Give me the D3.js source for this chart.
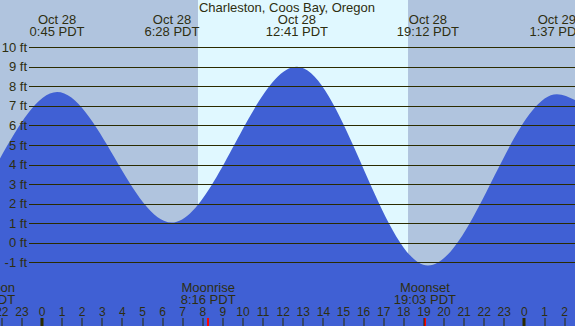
<!DOCTYPE html>
<html>
<head>
<meta charset="utf-8">
<script src="https://cdn.jsdelivr.net/npm/d3@7"></script>
<style>
  body { margin: 0; background: #b0c4de; }
  svg { display: block; font-family: "Liberation Sans", Arial, sans-serif; }
  text { fill: #2e2e10; }
</style>
</head>
<body>
<div id="chart"></div>
<script>
var width = 575,
    height = 326;

// tide: chart edges and the highs / lows (hours from midnight Oct 28, feet)
var tideHours = [-2.09, 0.75, 6.467, 12.683, 19.2, 25.617, 26.52];
var tideFeet  = [4.31, 7.71, 1.03, 9.0, -1.16, 7.6, 7.3];

// high / low labels on top
var extremeHours = [0.75, 6.467, 12.683, 19.2, 25.617];
var extremeDates = ["Oct 28", "Oct 28", "Oct 28", "Oct 28", "Oct 29"];
var extremeTimes = ["0:45 PDT", "6:28 PDT", "12:41 PDT", "19:12 PDT", "1:37 PDT"];

// daylight
var sunrise = 7.76,
    sunset = 18.21;

// moon events at the bottom (the first one is cut off at the left edge)
var moonHours = [-1.34, 8.267, 19.05];
var moonNames = ["Moon", "Moonrise", "Moonset"];
var moonTimes = ["PDT", "8:16 PDT", "19:03 PDT"];

var feetTicks = [10, 9, 8, 7, 6, 5, 4, 3, 2, 1, 0, -1];
var hourTicks = d3.range(-2, 27);

var x = d3.scaleLinear().domain([0, 24]).range([42, 524.4]);
var y = d3.scaleLinear().domain([-1, 10]).range([262.3, 47.3]);

var svg = d3.select("#chart").append("svg")
    .attr("width", width)
    .attr("height", height);

// night background, then the day band
svg.append("rect")
    .attr("width", width)
    .attr("height", height)
    .attr("fill", "#b0c4de");

svg.append("rect")
    .attr("x", x(sunrise))
    .attr("width", x(sunset) - x(sunrise))
    .attr("height", height)
    .attr("fill", "#e0f8ff");

// tide
var tide = tideHours.map(function (h, i) { return [h, tideFeet[i]]; });

var area = d3.area()
    .x(function (d) { return x(d[0]); })
    .y0(height)
    .y1(function (d) { return y(d[1]); })
    .curve(d3.curveMonotoneX);

svg.append("path")
    .datum(tide)
    .attr("d", area)
    .attr("fill", "#4060d4");

// grid lines and feet labels
var grid = svg.append("g");
grid.selectAll("line")
    .data(feetTicks)
    .enter()
    .append("line")
    .attr("x1", 29)
    .attr("x2", width)
    .attr("y1", function (d) { return Math.round(y(d)) + 0.5; })
    .attr("y2", function (d) { return Math.round(y(d)) + 0.5; })
    .attr("stroke", "#2b2b00")
    .attr("stroke-width", 1.2);

grid.selectAll("text")
    .data(feetTicks)
    .enter()
    .append("text")
    .attr("x", 27)
    .attr("y", function (d) { return y(d) + 4.5; })
    .attr("text-anchor", "end")
    .attr("font-size", 13)
    .text(function (d) { return d + " ft"; });

// title
svg.append("text")
    .attr("x", 287)
    .attr("y", 12)
    .attr("text-anchor", "middle")
    .attr("font-size", 13)
    .text("Charleston, Coos Bay, Oregon");

// high / low times
var topLabels = svg.append("g").selectAll("g")
    .data(extremeHours)
    .enter()
    .append("g");

topLabels.append("text")
    .attr("x", function (d) { return x(d); })
    .attr("y", 24)
    .attr("text-anchor", "middle")
    .attr("font-size", 13)
    .text(function (d, i) { return extremeDates[i]; });

topLabels.append("text")
    .attr("x", function (d) { return x(d); })
    .attr("y", 36)
    .attr("text-anchor", "middle")
    .attr("font-size", 13)
    .text(function (d, i) { return extremeTimes[i]; });

// moon events
var moon = svg.append("g").selectAll("g")
    .data(moonHours)
    .enter()
    .append("g");

moon.append("text")
    .attr("x", function (d) { return x(d); })
    .attr("y", 292)
    .attr("text-anchor", function (d, i) { return i == 0 ? "end" : "middle"; })
    .attr("font-size", 13)
    .text(function (d, i) { return moonNames[i]; });

moon.append("text")
    .attr("x", function (d) { return x(d); })
    .attr("y", 303.5)
    .attr("text-anchor", function (d, i) { return i == 0 ? "end" : "middle"; })
    .attr("font-size", 13)
    .text(function (d, i) { return moonTimes[i]; });

moon.filter(function (d, i) { return i > 0; })
    .append("rect")
    .attr("x", function (d) { return Math.round(x(d)) - 1; })
    .attr("y", 318)
    .attr("width", 2)
    .attr("height", 8)
    .attr("fill", "#ff0000");

// hour axis
var hours = svg.append("g").selectAll("g")
    .data(hourTicks)
    .enter()
    .append("g");

hours.append("rect")
    .attr("x", function (d) { return (d % 24 == 0) ? Math.round(x(d)) - 1.5 : Math.round(x(d)) - 0.5; })
    .attr("y", 318)
    .attr("width", function (d) { return d % 24 == 0 ? 3 : 1; })
    .attr("height", 8)
    .attr("fill", "#2b2b00");

hours.append("text")
    .attr("x", function (d) { return x(d); })
    .attr("y", 316)
    .attr("text-anchor", "middle")
    .attr("font-size", 12)
    .text(function (d) { return (d + 24) % 24; });
</script>
</body>
</html>
